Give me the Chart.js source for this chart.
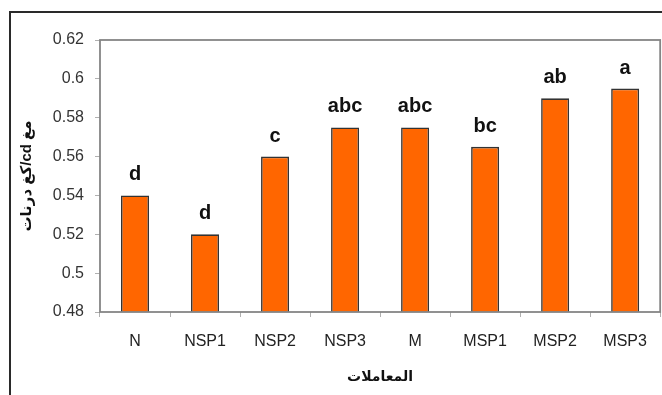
<!DOCTYPE html>
<html>
<head>
<meta charset="utf-8">
<script src="https://cdn.jsdelivr.net/npm/chart.js@4/dist/chart.umd.min.js"></script>
<style>
  html, body { margin: 0; padding: 0; background: #fff; }
  #wrap { width: 662px; height: 395px; position: relative; }
</style>
</head>
<body>
<div id="wrap"><canvas id="c" width="662" height="395"></canvas></div>
<script>
// Treatments and their measured values
const categories = ['N', 'NSP1', 'NSP2', 'NSP3', 'M', 'MSP1', 'MSP2', 'MSP3'];
const values = [0.54, 0.52, 0.56, 0.575, 0.575, 0.565, 0.59, 0.595];
// Significance letters shown above each bar
const letters = ['d', 'd', 'c', 'abc', 'abc', 'bc', 'ab', 'a'];
const yTitle = '\u202Bمغ cd/كغ درنات\u202C';
const xTitle = 'المعاملات';
const yMin = 0.48, yMax = 0.62, yStep = 0.02;

const FONT = "'Liberation Sans', Arial, 'DejaVu Sans', sans-serif";

// Outer frame lines and plot-area box
const framePlugin = {
  id: 'frame',
  beforeDraw(chart) {
    const ctx = chart.ctx;
    ctx.save();
    ctx.fillStyle = '#fff';
    ctx.fillRect(0, 0, chart.width, chart.height);
    ctx.strokeStyle = '#2a2a2a';
    ctx.lineWidth = 2;
    ctx.beginPath();
    ctx.moveTo(10, chart.height);
    ctx.lineTo(10, 12);
    ctx.lineTo(chart.width, 12);
    ctx.stroke();
    ctx.restore();
  },
  afterDraw(chart) {
    const a = chart.chartArea;
    const ctx = chart.ctx;
    ctx.save();
    ctx.strokeStyle = '#858585';
    ctx.lineWidth = 1.8;
    ctx.strokeRect(a.left, a.top, a.right - a.left, a.bottom - a.top);
    ctx.restore();
  }
};

// Letters above the bars
const letterPlugin = {
  id: 'letters',
  afterDatasetsDraw(chart) {
    const ctx = chart.ctx;
    const meta = chart.getDatasetMeta(0);
    ctx.save();
    ctx.font = 'bold 20px ' + FONT;
    ctx.fillStyle = '#111';
    ctx.textAlign = 'center';
    ctx.textBaseline = 'alphabetic';
    meta.data.forEach((bar, i) => {
      ctx.fillText(letters[i], bar.x, bar.y - 15);
    });
    ctx.restore();
  }
};

new Chart(document.getElementById('c'), {
  type: 'bar',
  data: {
    labels: categories,
    datasets: [{
      data: values,
      backgroundColor: '#FF6600',
      borderColor: '#333333',
      borderWidth: 1.6,
      categoryPercentage: 1,
      barPercentage: 0.4
    }]
  },
  options: {
    responsive: false,
    animation: false,
    events: [],
    layout: { padding: { left: 12, top: 40, right: 1, bottom: 0 } },
    plugins: { legend: { display: false }, tooltip: { enabled: false } },
    scales: {
      x: {
        offset: true,
        border: { display: false },
        grid: { offset: true, drawOnChartArea: false, tickLength: 5, color: '#b0b0b0' },
        ticks: { color: '#222', font: { family: FONT, size: 16 }, padding: 15, maxRotation: 0 },
        title: { display: true, text: xTitle, color: '#111', font: { family: FONT, size: 14, weight: 'bold' }, padding: { top: 0, bottom: 9 } },
        afterFit(scale) { scale.height = 83; }
      },
      y: {
        min: yMin,
        max: yMax,
        border: { display: false },
        grid: { drawOnChartArea: false, tickLength: 5, color: '#b0b0b0' },
        ticks: {
          stepSize: yStep,
          color: '#333',
          font: { family: FONT, size: 16 },
          padding: 11,
          callback: v => String(Number(v.toFixed(2)))
        },
        title: { display: true, text: yTitle, color: '#111', font: { family: FONT, size: 15, weight: 'bold' }, padding: { top: 6, bottom: 0 } },
        afterFit(scale) { scale.width = 88; }
      }
    }
  },
  plugins: [framePlugin, letterPlugin]
});
</script>
</body>
</html>
